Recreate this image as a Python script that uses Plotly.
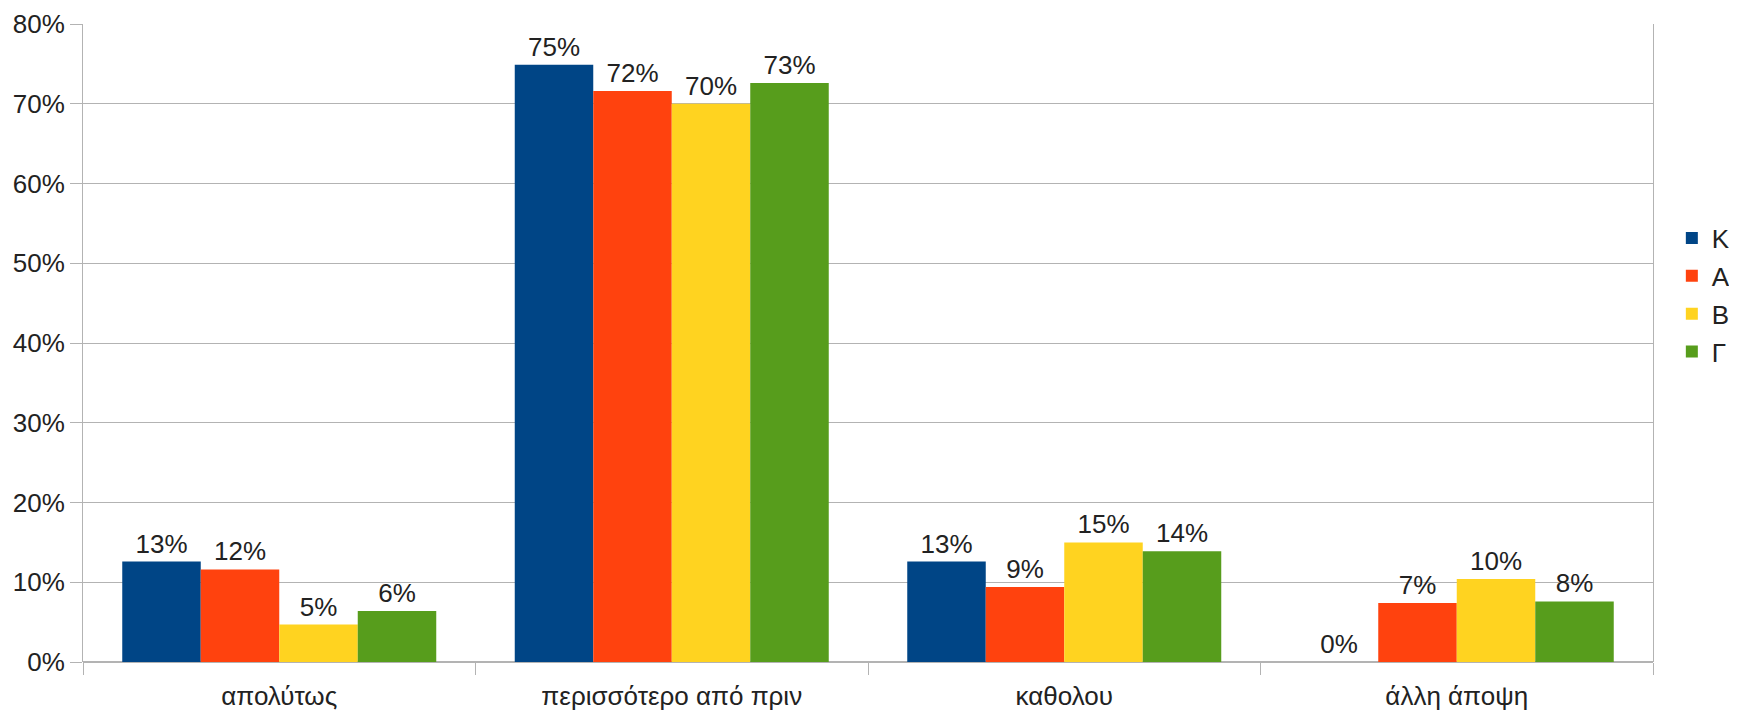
import plotly.graph_objects as go

categories = ['απολύτως', 'περισσότερο από πριν', 'καθολου', 'άλλη άποψη']
series_names = ['Κ', 'Α', 'Β', 'Γ']
series_k = [0.126, 0.749, 0.126, 0.0]
series_a = [0.116, 0.716, 0.094, 0.074]
series_b = [0.047, 0.700, 0.150, 0.104]
series_g = [0.064, 0.726, 0.139, 0.076]
colors = ['#004586', '#ff420e', '#ffd320', '#579d1c']
y_ticks = [0, 0.1, 0.2, 0.3, 0.4, 0.5, 0.6, 0.7, 0.8]

fig = go.Figure()
for name, vals, col in zip(series_names, [series_k, series_a, series_b, series_g], colors):
    fig.add_trace(go.Bar(
        x=categories, y=vals, name=name, legendgroup=name,
        marker=dict(color=col, line=dict(width=0)),
        texttemplate='%{y:.0%}', textposition='outside',
        textfont=dict(size=26, color='#222222'),
        cliponaxis=False,
    ))

# page body has an 8px margin, so the figure is made 8px smaller each way
fig.update_layout(
    width=1729, height=709,
    barmode='group', bargap=0.2, bargroupgap=0,
    paper_bgcolor='white', plot_bgcolor='white',
    font=dict(family='Liberation Sans, Arial, sans-serif', size=26, color='#222222'),
    margin=dict(l=75, r=84, t=16, b=55, autoexpand=False),
    showlegend=True,
    legend=dict(x=1.012, y=0.575, xanchor='left', yanchor='middle',
                font=dict(size=26), bgcolor='rgba(0,0,0,0)',
                itemwidth=30, tracegroupgap=1),
)
fig.update_xaxes(
    showgrid=False, tickson='boundaries', ticks='outside', ticklen=12,
    tickcolor='#b3b3b3', showline=False, zeroline=False,
    ticklabelstandoff=16,
)
fig.update_yaxes(
    range=[0, 0.8], tickvals=y_ticks, tickformat='.0%',
    showgrid=True, gridcolor='#b3b3b3', gridwidth=1,
    ticks='outside', ticklen=12, tickcolor='#b3b3b3',
    showline=True, linecolor='#b3b3b3', mirror=True,
    zeroline=True, zerolinecolor='#b3b3b3',
)

fig.write_html("out.html")
